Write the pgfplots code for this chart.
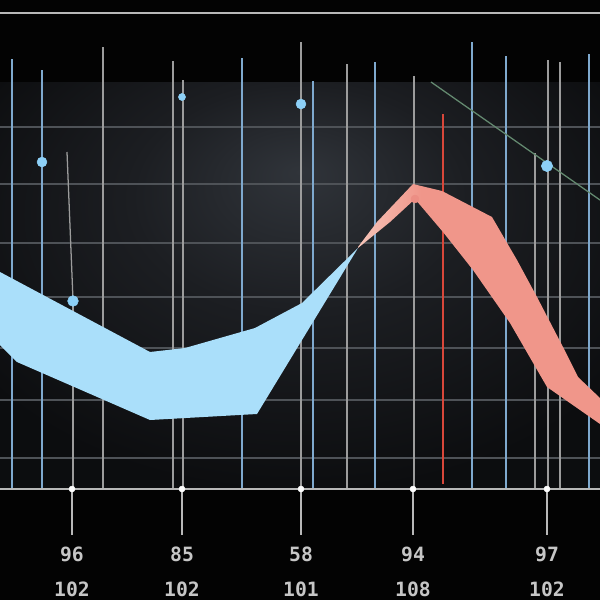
\documentclass[border=0pt]{standalone}
\usepackage{pgfplots}
\pgfplotsset{compat=1.18}
\usepackage{fontspec}
\newfontfamily\labfont{DejaVu Sans Mono Bold}
\definecolor{bgblack}{HTML}{030303}
\definecolor{panelin}{HTML}{30343A}
\definecolor{panelmid}{HTML}{1C1E22}
\definecolor{panelout}{HTML}{0C0D0F}
\definecolor{gridcol}{HTML}{4E5257}
\definecolor{bluelin}{HTML}{7FA9CE}
\definecolor{graylin}{HTML}{9C9C9C}
\definecolor{redlin}{HTML}{D8473A}
\definecolor{greenlin}{HTML}{648A70}
\definecolor{bandblue}{HTML}{AADFFA}
\definecolor{bandsal}{HTML}{F0968A}
\definecolor{bandtip}{HTML}{F6C4B8}
\definecolor{dotblue}{HTML}{8DD0F7}
\definecolor{axiscol}{HTML}{B8B8B8}
\definecolor{labcol}{HTML}{C6C6C6}
\definecolor{peakdot}{HTML}{EC8E84}
\pgfdeclareradialshading{panelshade}{\pgfpoint{0bp}{14bp}}{color(0bp)=(panelin); color(14bp)=(panelmid); color(32bp)=(panelout); color(60bp)=(panelout)}
\pgfdeclarehorizontalshading{redshade}{100bp}{color(0bp)=(bandtip); color(25bp)=(bandtip); color(38bp)=(bandsal); color(100bp)=(bandsal)}
\tikzset{lab/.style={labcol, font=\labfont\fontsize{14}{16}\selectfont}}
\begin{document}
\begin{tikzpicture}
\begin{axis}[at={(0,0)}, anchor=south west, scale only axis, width=15cm, height=15cm,
  xmin=0, xmax=600, ymin=0, ymax=600, y dir=reverse, hide axis, unbounded coords=jump]
% background
\addplot[fill=bgblack, draw=none] coordinates {(0,0) (600,0) (600,600) (0,600)} -- cycle;
\addplot[draw=none, shade, shading=panelshade] coordinates {(0,82) (600,82) (600,489) (0,489)} -- cycle;
% horizontal grid
\addplot[gridcol, line width=0.8pt] coordinates {
(0,127) (600,127) (0,nan)
(0,184) (600,184) (0,nan)
(0,243) (600,243) (0,nan)
(0,297) (600,297) (0,nan)
(0,348) (600,348) (0,nan)
(0,400) (600,400) (0,nan)
(0,458) (600,458)};
% vertical lines (blue)
\addplot[bluelin, line width=1pt] coordinates {
(12,59) (12,489) (12,nan)
(42,70) (42,489) (42,nan)
(242,58) (242,489) (242,nan)
(313,81) (313,489) (313,nan)
(375,62) (375,489) (375,nan)
(472,42) (472,489) (472,nan)
(506,56) (506,489) (506,nan)
(589,54) (589,489)};
% vertical lines (gray)
\addplot[graylin, line width=1pt] coordinates {
(103,47) (103,489) (103,nan)
(173,61) (173,489) (173,nan)
(183,80) (183,489) (183,nan)
(301,42) (301,489) (301,nan)
(347,64) (347,489) (347,nan)
(414,76) (414,489) (414,nan)
(535,153) (535,489) (535,nan)
(548,60) (548,489) (548,nan)
(560,62) (560,489) (560,nan)
(73,301) (73,489)};
% red line
\addplot[redlin, line width=1.1pt] coordinates {(443,114) (443,484)};
% slanted pointer
\addplot[graylin, line width=0.9pt] coordinates {(67,152) (73,300)};
% green diagonal
\addplot[greenlin, line width=0.9pt] coordinates {(431,82) (600,200)};
% blue band
\addplot[fill=bandblue, draw=none] coordinates {
(0,272) (150,352) (185,348) (255,328) (302,303) (358,248)
(257,414) (150,420) (17,362) (0,345)} -- cycle;
% salmon band
\addplot[draw=none, shade, shading=redshade] coordinates {
(358,247) (377,222) (413,184) (442,191) (492,217) (517,260) (537,297) (563,347) (578,377) (600,398)
(600,424) (547,387) (510,323) (473,270) (443,232) (415,199) (390,222) (358,248)} -- cycle;
% dots
\addplot[only marks, mark=*, mark size=3.5pt, dotblue] coordinates {(42,162) (301,104)};
\addplot[only marks, mark=*, mark size=2.5pt, dotblue] coordinates {(182,97)};
\addplot[only marks, mark=*, mark size=4pt, dotblue] coordinates {(547,166)};
\addplot[only marks, mark=*, mark size=3.8pt, dotblue] coordinates {(73,301)};
\addplot[only marks, mark=*, mark size=2.8pt, mark options={draw=peakdot, fill=peakdot}] coordinates {(415,199)};
% top line and axis line
\addplot[axiscol, line width=1.3pt] coordinates {(0,13) (600,13)};
\addplot[axiscol, line width=1.3pt] coordinates {(0,489) (600,489)};
% ticks
\addplot[axiscol, line width=1pt] coordinates {
(72,489) (72,535) (72,nan)
(182,489) (182,535) (182,nan)
(301,489) (301,535) (301,nan)
(413,489) (413,535) (413,nan)
(547,489) (547,535)};
\addplot[only marks, mark=*, mark size=2.1pt, white] coordinates {(72,489) (182,489) (301,489) (413,489) (547,489)};
% labels
\node[lab] at (axis cs:72,554) {96};
\node[lab] at (axis cs:182,554) {85};
\node[lab] at (axis cs:301,554) {58};
\node[lab] at (axis cs:413,554) {94};
\node[lab] at (axis cs:547,554) {97};
\node[lab] at (axis cs:72,589) {102};
\node[lab] at (axis cs:182,589) {102};
\node[lab] at (axis cs:301,589) {101};
\node[lab] at (axis cs:413,589) {108};
\node[lab] at (axis cs:547,589) {102};
\end{axis}
\pgfresetboundingbox
\useasboundingbox (0,0) rectangle (15cm,15cm);
\end{tikzpicture}
\end{document}
